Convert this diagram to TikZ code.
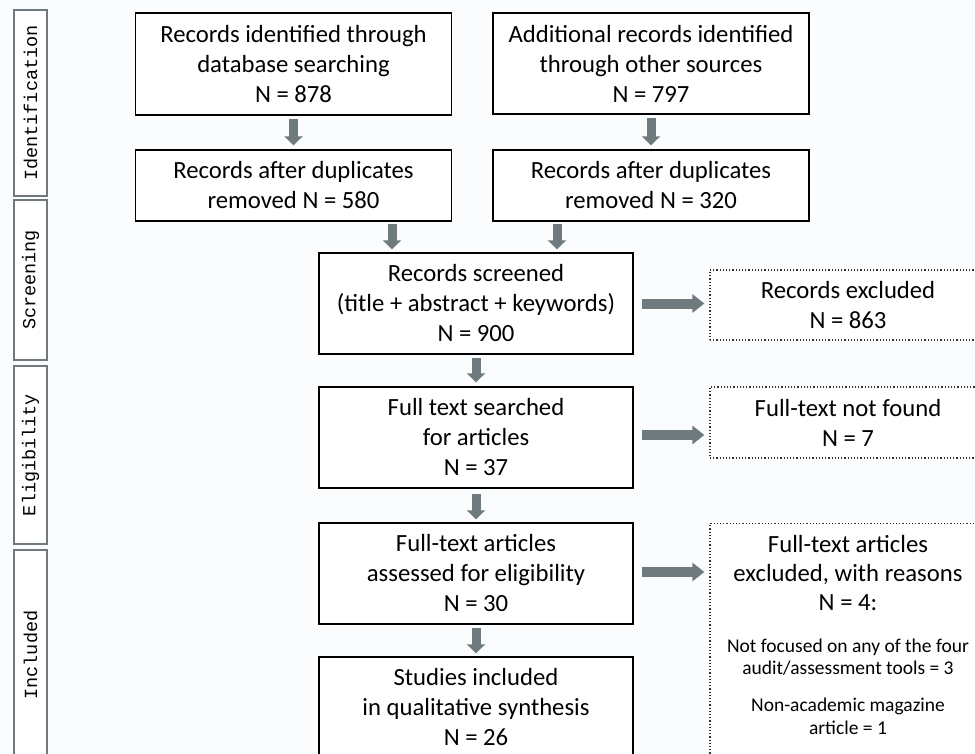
\documentclass[tikz,border=0pt]{standalone}
\usepackage{fontspec}
\setmainfont{Carlito}
\newfontfamily\sidefont{Liberation Mono}
\usetikzlibrary{arrows.meta,calc}
\definecolor{arrgray}{HTML}{6E7A7E}
\definecolor{bg}{HTML}{FBFCFE}
\tikzset{
  mainbox/.style={draw=black, line width=1.4pt, fill=white, minimum width=316pt, minimum height=101pt, inner sep=0pt, align=center, font=\fontsize{24.7}{30}\selectfont},
  sidebox/.style={draw=arrgray, line width=2.8pt, fill=white, minimum width=33pt, inner sep=0pt, rotate=90, font=\sidefont\fontsize{18.5}{20}\selectfont},
  exbox/.style={draw=black!80, line width=1.2pt, dotted, fill=white, minimum width=276pt, inner sep=0pt, align=center, font=\fontsize{24.7}{30}\selectfont},
  vfat/.style={draw=arrgray, line width=9pt, -{Triangle[width=18pt,length=9pt]}},
  hfat/.style={draw=arrgray, line width=10pt, -{Triangle[width=18pt,length=12pt]}},
}
\begin{document}
\begin{tikzpicture}[x=1pt,y=-1pt]
\useasboundingbox (0,0) rectangle (975,754);
\fill[bg] (0,0) rectangle (975,754);
\begin{scope}
\clip (0,0) rectangle (975,754);
% side labels
\node[sidebox, minimum width=186pt, minimum height=33pt] (sid) at (30.5,103) {Identification};
\node[sidebox, minimum width=160pt, minimum height=33pt] (ssc) at (30.5,280) {Screening};
\node[sidebox, minimum width=178pt, minimum height=33pt] (sel) at (30.5,455) {Eligibility};
\node[sidebox, minimum width=210pt, minimum height=33pt] (sin) at (30.5,655) {Included};
% main boxes
\node[mainbox, minimum height=102pt] (b1) at (293.5,64) {Records identified through\\database searching\\N = 878};
\node[mainbox, minimum height=71pt] (b2) at (293.5,185.5) {Records after duplicates\\removed N = 580};
\node[mainbox, minimum height=101pt] (b3) at (651,63.5) {Additional records identified\\through other sources\\N = 797};
\node[mainbox, minimum height=71pt] (b4) at (651,185.5) {Records after duplicates\\removed N = 320};
\node[mainbox, minimum width=314pt] (scr) at (476,303.5) {Records screened\\(title + abstract + keywords)\\N = 900};
\node[mainbox, minimum width=314pt] (fts) at (476,437.5) {Full text searched\\for articles\\N = 37};
\node[mainbox, minimum width=314pt] (fta) at (476,573.5) {Full-text articles\\assessed for eligibility\\N = 30};
\node[mainbox, minimum width=314pt] (inc) at (476,707.5) {Studies included\\in qualitative synthesis\\N = 26};
% exclusion boxes
\node[exbox, minimum height=70pt] (rex) at (848,305) {Records excluded\\N = 863};
\node[exbox, minimum height=71pt] (nf) at (848,422.5) {Full-text not found\\N = 7};
\node[exbox, minimum height=240pt, anchor=north] (fex) at (848,523) {};
\node[align=center, anchor=north, inner sep=0pt, font=\fontsize{24.7}{29}\selectfont] (fext) at (848,535) {Full-text articles\\excluded, with reasons\\N = 4:};
\node[align=center, anchor=north, inner sep=0pt, font=\fontsize{19.5}{21.5}\selectfont] (r1) at (848,639) {Not focused on any of the four\\audit/assessment tools = 3};
\node[align=center, anchor=north, inner sep=0pt, font=\fontsize{19.5}{23}\selectfont] (r2) at (848,698) {Non-academic magazine\\article = 1};
% arrows
\draw[vfat, shorten <=3pt, shorten >=4pt] (b1.south) -- (b2.north);
\draw[vfat, shorten <=3pt, shorten >=4pt] (b3.south) -- (b4.north);
\draw[vfat, shorten <=2pt, shorten >=3pt] ([xshift=98.5pt]b2.south) -- ([xshift=98.5pt]b2.south |- scr.north);
\draw[vfat, shorten <=2pt, shorten >=3pt] ([xshift=-94pt]b4.south) -- ([xshift=-94pt]b4.south |- scr.north);
\draw[vfat, shorten <=3pt, shorten >=4pt] (scr.south) -- (fts.north);
\draw[vfat, shorten <=5pt, shorten >=3pt] (fts.south) -- (fta.north);
\draw[vfat, shorten <=3pt, shorten >=3pt] (fta.south) -- (inc.north);
\draw[hfat, shorten <=8pt, shorten >=5pt] (scr.east) -- (scr.east -| rex.west);
\draw[hfat, shorten <=8pt, shorten >=5pt] ([yshift=2.5pt]fts.east) -- ([yshift=2.5pt]fts.east -| nf.west);
\draw[hfat, shorten <=8pt, shorten >=5pt] ([yshift=1.5pt]fta.east) -- ([yshift=1.5pt]fta.east -| fex.west);
\end{scope}
\end{tikzpicture}
\end{document}
